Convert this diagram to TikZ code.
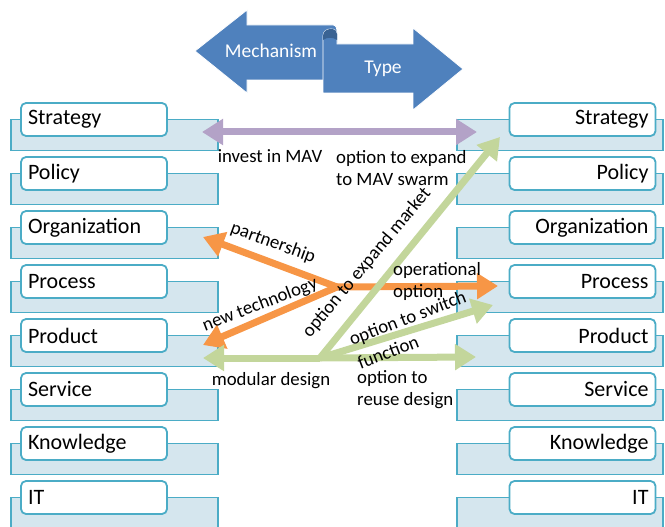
\documentclass[tikz,border=0pt]{standalone}
\usepackage{fontspec}
\setmainfont{Carlito}
\usetikzlibrary{arrows.meta}
\definecolor{tealb}{HTML}{4BACC6}
\definecolor{bgfill}{HTML}{D5E6EE}
\definecolor{blueA}{HTML}{4F81BD}
\definecolor{blueD}{HTML}{3A6393}
\definecolor{purp}{HTML}{B3A2C7}
\definecolor{grn}{HTML}{C3D69B}
\definecolor{orng}{HTML}{F79646}
\tikzset{
  bgbox/.style={fill=bgfill,draw=tealb,line width=1.8pt},
  lbox/.style={draw=tealb,fill=white,line width=1.8pt,rounded corners=5pt,
    minimum width=146pt,minimum height=33pt,inner xsep=7pt,text width=132pt,
    font=\fontsize{22}{22}\selectfont},
  fatarrow/.style={line width=7pt,-{Triangle[length=21pt,width=25pt]}},
  lbl/.style={font=\fontsize{18.8}{22}\selectfont,inner sep=0pt},
  bannerA/.style={fill=blueA,draw=white,line width=0.8pt}
}
\begin{document}
\begin{tikzpicture}[x=1pt,y=-1pt]
\useasboundingbox (0,0) rectangle (665,527);
% banner
\path[bannerA] (195,51) -- (247,10) -- (247,25) -- (333,25)
  .. controls (336,25) and (337,28) .. (337,32) -- (337,80) -- (247,80) -- (247,93) -- cycle;
\path[bannerA] (323,36) .. controls (323,31) and (327,29) .. (331,29)
  .. controls (335,29) and (337,31) .. (337,34) -- (337,44) -- (413,44) -- (413,28)
  -- (463,69) -- (413,110) -- (413,93) -- (323,93) -- cycle;
\fill[blueD] (323,36) .. controls (323,31) and (327,29) .. (331,29)
  .. controls (335,29) and (337,31) .. (337,34) -- (337,40)
  .. controls (333,37) and (327,37) .. (323,40) -- cycle;
\node[white,font=\fontsize{19.5}{19.5}\selectfont] (mech) at (271,51) {Mechanism};
\node[white,font=\fontsize{19.5}{19.5}\selectfont] (type) at (383,69) {Type};
% rows
\foreach \t [count=\i from 0] in {Strategy,Policy,Organization,Process,Product,Service,Knowledge,IT}{
  \pgfmathsetmacro{\yc}{119.5+54*\i}
  \path[bgbox] (11,\yc) rectangle (218,\yc+31);
  \path[bgbox] (457,\yc) rectangle (663,\yc+31);
  \node[lbox,align=left] (L\i) at (94,\yc) {\t};
  \node[lbox,align=right] (R\i) at (582.5,\yc) {\t};
}
% arrow end points
\coordinate (pL) at (202,132);
\coordinate (pR) at (477,132);
\coordinate (oc) at (337,287);
\coordinate (oPart) at (203,237);
\coordinate (oTech) at (203,345);
\coordinate (oOper) at (498,286);
\coordinate (gc) at (320,358);
\coordinate (gMod) at (203,358);
\coordinate (gReuse) at (476,357);
\coordinate (gSwitch) at (493,305);
\coordinate (gMarket) at (500,137);
% arrows
\draw[purp,line width=7pt,{Triangle[length=21pt,width=25pt]}-{Triangle[length=21pt,width=25pt]}] (pL) -- (pR);
\draw[orng,fatarrow] (oc) -- (oPart);
\draw[orng,fatarrow] (oc) -- (oTech);
\draw[orng,fatarrow] (oc) -- (oOper);
\draw[grn,fatarrow] (gc) -- (gMod);
\draw[grn,fatarrow] (gc) -- (gReuse);
\draw[grn,fatarrow] (gc) -- (gSwitch);
\draw[grn,fatarrow] (gc) -- (gMarket);
% labels
\node[lbl] (tInvest) at (270,156) {invest in MAV};
\node[lbl,anchor=west,align=left] (tExpand) at (336,168) {option to expand\\to MAV swarm};
\node[lbl,rotate=-20] (tPart) at (273,243) {partnership};
\node[lbl,rotate=21] (tTech) at (260,305) {new technology};
\node[lbl,rotate=50] (tMarket) at (367,263) {option to expand market};
\node[lbl,anchor=west,align=left] (tOper) at (393,281) {operational\\option};
\node[lbl,rotate=21] (tSwitch) at (408,319) {option to switch};
\node[lbl,rotate=21] (tFunc) at (388,352) {function};
\node[lbl] (tMod) at (271,381) {modular design};
\node[lbl,anchor=west,align=left] (tReuse) at (357,390) {option to\\reuse design};
\end{tikzpicture}
\end{document}
